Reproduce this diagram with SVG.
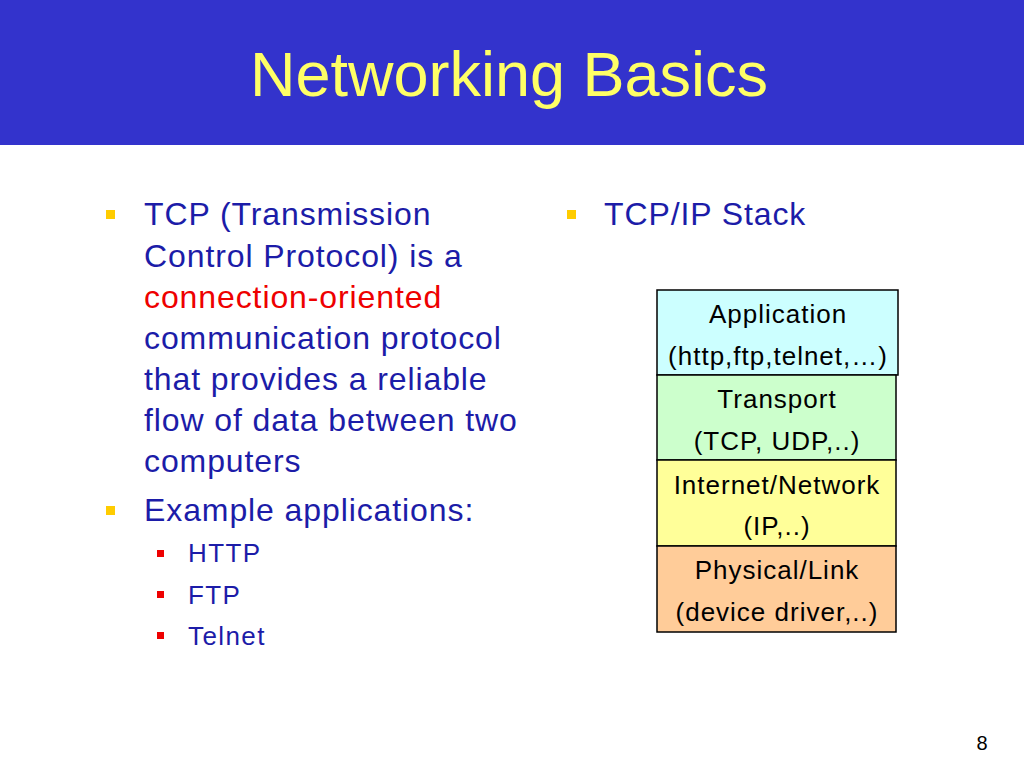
<svg xmlns="http://www.w3.org/2000/svg" width="1024" height="768" viewBox="0 0 1024 768">
<style>
text{font-family:"Liberation Sans",Arial,sans-serif}
.b{font-size:32px;fill:#1c1ca8;letter-spacing:0.9px}
.s{font-size:26px;fill:#1c1ca8;letter-spacing:1.4px}
.l{font-size:26px;fill:#000;text-anchor:middle;letter-spacing:1px}
.box{stroke:#000;stroke-width:1.5}
</style>
<rect width="1024" height="768" fill="#fff"/>
<rect width="1024" height="145" fill="#3333cc"/>
<text x="509" y="96" font-size="63" fill="#ffff66" text-anchor="middle">Networking Basics</text>
<g fill="#ffcc00">
<rect x="106" y="210" width="9" height="9"/><rect x="106" y="506" width="9" height="9"/><rect x="567" y="210" width="9" height="9"/>
</g>
<g fill="#ee0000"><rect x="157" y="550" width="7" height="7"/><rect x="157" y="591" width="7" height="7"/><rect x="157" y="632" width="7" height="7"/></g>
<text class="b" x="144" y="225">TCP (Transmission</text>
<text class="b" x="144" y="267">Control Protocol) is a</text>
<text class="b" x="144" y="308" style="fill:#ee0000">connection-oriented</text>
<text class="b" x="144" y="349">communication protocol</text>
<text class="b" x="144" y="390">that provides a reliable</text>
<text class="b" x="144" y="431">flow of data between two</text>
<text class="b" x="144" y="472">computers</text>
<text class="b" x="144" y="521">Example applications:</text>
<text class="s" x="188" y="562">HTTP</text>
<text class="s" x="188" y="604">FTP</text>
<text class="s" x="188" y="645">Telnet</text>
<text class="b" x="604" y="225">TCP/IP Stack</text>
<g id="app"><rect class="box" x="657" y="290" width="241" height="85" fill="#ccffff"/><text class="l" x="778" y="323">Application</text><text class="l" x="778" y="365">(http,ftp,telnet,…)</text></g>
<g id="transport"><rect class="box" x="657" y="375" width="239" height="85" fill="#ccffcc"/><text class="l" x="777" y="408">Transport</text><text class="l" x="777" y="450">(TCP, UDP,..)</text></g>
<g id="internet"><rect class="box" x="657" y="460" width="239" height="86" fill="#ffff99"/><text class="l" x="777" y="494">Internet/Network</text><text class="l" x="777" y="535">(IP,..)</text></g>
<g id="physical"><rect class="box" x="657" y="546" width="239" height="86" fill="#ffcc99"/><text class="l" x="777" y="579">Physical/Link</text><text class="l" x="777" y="621">(device driver,..)</text></g>
<text x="982" y="750" font-size="20" fill="#000" text-anchor="middle">8</text>
</svg>
